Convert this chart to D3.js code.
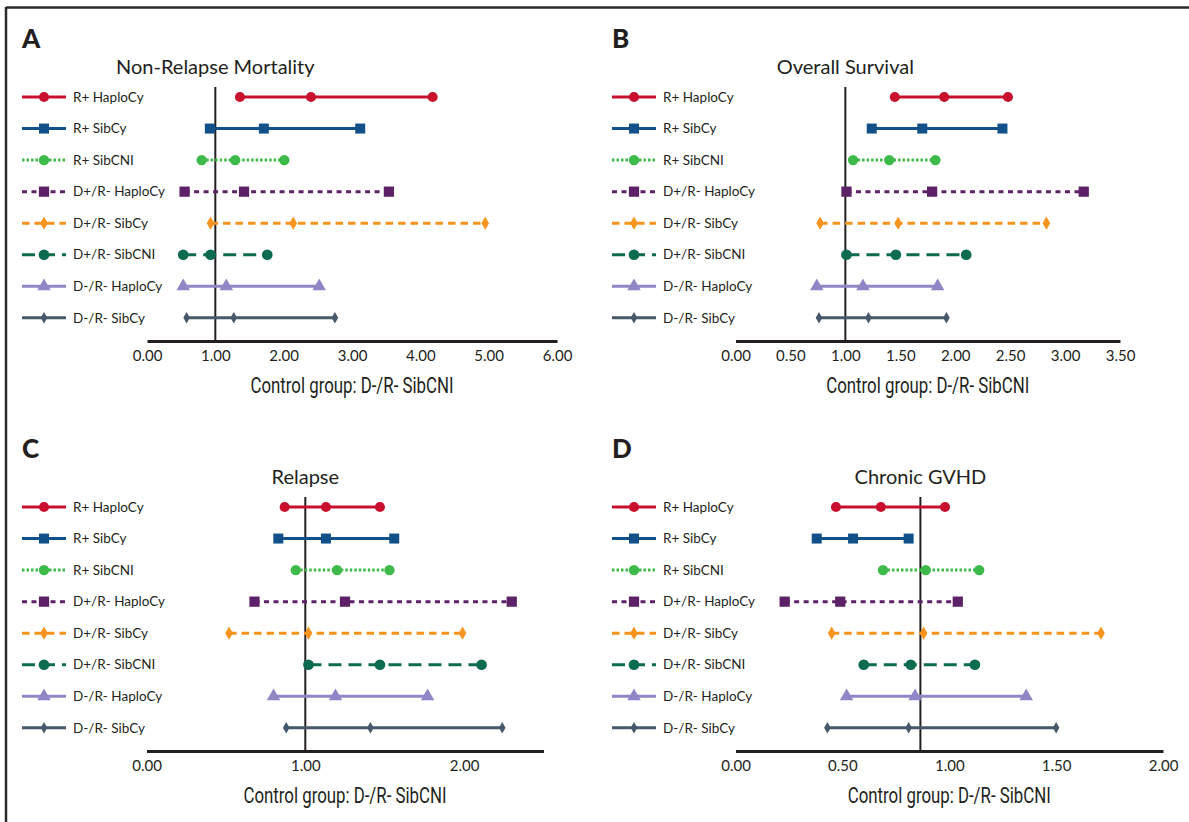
<!DOCTYPE html>
<html>
<head>
<meta charset="utf-8">
<script src="https://cdn.jsdelivr.net/npm/d3@7"></script>
<style>
  body { margin: 0; background: #fff; }
  svg { display: block; }
  text { font-family: Lato, "Open Sans", sans-serif; fill: #231f20; }
  .axis-title { font-family: Roboto, Lato, sans-serif; }
</style>
</head>
<body>
<div id="chart"></div>
<script>
// groups compared against the control group D-/R- SibCNI
const groups = ['R+ HaploCy', 'R+ SibCy', 'R+ SibCNI', 'D+/R- HaploCy',
  'D+/R- SibCy', 'D+/R- SibCNI', 'D-/R- HaploCy', 'D-/R- SibCy'];

// [lower CI, estimate, upper CI] per group
const nrm = [[1.36, 2.40, 4.18], [0.92, 1.71, 3.12], [0.80, 1.29, 2.01], [0.55, 1.42, 3.54],
  [0.93, 2.14, 4.95], [0.53, 0.93, 1.76], [0.53, 1.16, 2.52], [0.58, 1.27, 2.75]];
const os = [[1.45, 1.90, 2.48], [1.24, 1.70, 2.43], [1.07, 1.40, 1.82], [1.01, 1.79, 3.17],
  [0.77, 1.48, 2.83], [1.01, 1.46, 2.10], [0.74, 1.16, 1.84], [0.76, 1.21, 1.92]];
const relapse = [[0.87, 1.13, 1.47], [0.83, 1.13, 1.56], [0.94, 1.20, 1.53], [0.68, 1.25, 2.30],
  [0.52, 1.02, 1.99], [1.02, 1.47, 2.11], [0.80, 1.19, 1.77], [0.88, 1.41, 2.24]];
const cgvhd = [[0.47, 0.68, 0.98], [0.38, 0.55, 0.81], [0.69, 0.89, 1.14], [0.23, 0.49, 1.04],
  [0.45, 0.88, 1.71], [0.60, 0.82, 1.12], [0.52, 0.84, 1.36], [0.43, 0.81, 1.50]];

const panelLetters = ['A', 'B', 'C', 'D'];
const panelTitles = ['Non-Relapse Mortality', 'Overall Survival', 'Relapse', 'Chronic GVHD'];
const axisMax = [6, 3.5, 2.5, 2];
const tickValues = [[0, 1, 2, 3, 4, 5, 6], [0, 0.5, 1, 1.5, 2, 2.5, 3, 3.5], [0, 1, 2], [0, 0.5, 1, 1.5, 2]];
const refValue = [1, 1, 1, 0.865];
const axisTitle = 'Control group: D-/R- SibCNI';

const styles = [
  { color: '#c8102e', dash: null, symbol: d3.symbolCircle, size: 80 },
  { color: '#12508a', dash: null, symbol: d3.symbolSquare, size: 100 },
  { color: '#3dba49', dash: '2.5,2', symbol: d3.symbolCircle, size: 85 },
  { color: '#5c2167', dash: '5,4.5', symbol: d3.symbolSquare, size: 105 },
  { color: '#f7941d', dash: '7.5,5', symbol: d3.symbolDiamond, size: 50 },
  { color: '#0d6b4f', dash: '13,7', symbol: d3.symbolCircle, size: 90 },
  { color: '#8f86c5', dash: null, symbol: d3.symbolTriangle, size: 80 },
  { color: '#46596b', dash: null, symbol: d3.symbolDiamond, size: 38 }
];

const W = 1189, H = 822;
const svg = d3.select('#chart').append('svg').attr('width', W).attr('height', H);

// frame: top and left edges only
svg.append('line').attr('x1', 6).attr('x2', W).attr('y1', 7.5).attr('y2', 7.5)
  .attr('stroke', '#2b2b2b').attr('stroke-width', 2.5);
svg.append('line').attr('x1', 6).attr('x2', 6).attr('y1', 7).attr('y2', H)
  .attr('stroke', '#2b2b2b').attr('stroke-width', 2.5);

const panels = [
  { data: nrm, ox: 0, oy: 0, x0: 147, x1: 557 },
  { data: os, ox: 590, oy: 0, x0: 735.5, x1: 1120 },
  { data: relapse, ox: 0, oy: 410, x0: 146.5, x1: 543.5 },
  { data: cgvhd, ox: 590, oy: 410, x0: 735.5, x1: 1163 }
];

panels.forEach((p, pi) => {
  const g = svg.append('g');
  const rowTop = p.oy + 97, rowStep = 31.55, axisY = p.oy + 341;

  const x = d3.scaleLinear().domain([0, axisMax[pi]]).range([p.x0, p.x1]);
  const y = d3.scalePoint().domain(groups).range([rowTop, rowTop + rowStep * 7]);

  g.append('text').attr('x', p.ox + 22).attr('y', p.oy + 48)
    .style('font-size', '26px').style('font-weight', 900).text(panelLetters[pi]);

  g.append('text').attr('x', x(refValue[pi])).attr('y', p.oy + 74)
    .attr('text-anchor', 'middle').style('font-size', '20px').text(panelTitles[pi]);

  // axis
  const axis = g.append('g').attr('transform', `translate(0,${axisY})`)
    .call(d3.axisBottom(x).tickValues(tickValues[pi]).tickSize(0).tickPadding(9)
      .tickFormat(d3.format('.2f')));
  axis.select('.domain').attr('stroke', '#231f20').attr('stroke-width', 3);
  axis.selectAll('text').style('font-size', '15px').style('font-family', 'Lato, sans-serif')
    .attr('fill', '#231f20');

  const mid = (p.x0 + p.x1) / 2 - 0.5;
  g.append('text').attr('class', 'axis-title')
    .attr('x', mid - 101).attr('y', axisY + 52)
    .attr('textLength', 203).attr('lengthAdjust', 'spacingAndGlyphs')
    .style('font-size', '21.5px').text(axisTitle);

  // reference line
  g.append('line').attr('x1', x(refValue[pi])).attr('x2', x(refValue[pi]))
    .attr('y1', p.oy + 87).attr('y2', axisY)
    .attr('stroke', '#231f20').attr('stroke-width', 2);

  groups.forEach((name, i) => {
    const s = styles[i];
    const cy = y(name);
    const [lo, est, hi] = p.data[i];

    // legend
    g.append('line').attr('x1', p.ox + 22).attr('x2', p.ox + 66).attr('y1', cy).attr('y2', cy)
      .attr('stroke', s.color).attr('stroke-width', 3).attr('stroke-dasharray', s.dash);
    g.append('path').attr('d', d3.symbol(s.symbol, s.size)())
      .attr('transform', `translate(${p.ox + 44},${cy})`).attr('fill', s.color);
    g.append('text').attr('x', p.ox + 73).attr('y', cy).attr('dy', '0.35em')
      .style('font-size', '13.5px').text(name);

    // interval
    g.append('line').attr('x1', x(lo)).attr('x2', x(hi)).attr('y1', cy).attr('y2', cy)
      .attr('stroke', s.color).attr('stroke-width', 3).attr('stroke-dasharray', s.dash);
    g.selectAll(null).data([lo, est, hi]).enter().append('path')
      .attr('d', d3.symbol(s.symbol, s.size)())
      .attr('transform', d => `translate(${x(d)},${cy})`)
      .attr('fill', s.color);
  });
});
</script>
</body>
</html>
